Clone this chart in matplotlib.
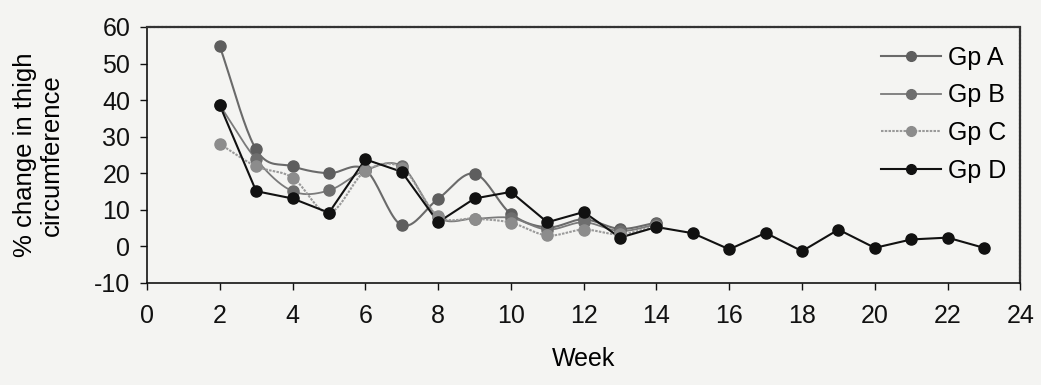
#!/usr/bin/env python3
"""
Percent change in thigh circumference by week for four groups (A-D).
Redrawn from a scanned figure: gray markers, smoothed lines, dotted frame.
"""

import numpy as np
import matplotlib.pyplot as plt

# weeks measured for groups A-C, and the longer run of group D
weeks_abc = [2, 3, 4, 5, 6, 7, 8, 9, 10, 11, 12, 13, 14]
weeks_d = [2, 3, 4, 5, 6, 7, 8, 9, 10, 11, 12, 13, 14, 15, 16, 17, 18, 19, 20, 21, 22, 23]

gp_a = [54.7, 26.5, 21.9, 20.0, 21.0, 5.8, 13.0, 19.9, 8.9, 5.2, 7.4, 4.8, 6.5]
gp_b = [38.6, 23.8, 15.1, 15.3, 20.8, 21.9, 8.0, 7.6, 7.8, 4.6, 6.6, 4.2, 6.0]
gp_c = [28.0, 21.9, 18.8, 9.2, 20.6, 21.5, 8.3, 7.6, 6.5, 3.0, 4.6, 3.3, 5.6]
gp_d = [38.6, 15.1, 13.1, 9.2, 23.8, 20.4, 6.6, 13.1, 14.9, 6.6, 9.4, 2.4, 5.3,
        3.6, -0.8, 3.7, -1.3, 4.6, -0.4, 1.9, 2.4, -0.4]

x_ticks = list(range(0, 25, 2))
y_ticks = list(range(-10, 61, 10))

BG = '#f4f4f2'
FONT = 'Liberation Sans'
plt.rcParams['axes.unicode_minus'] = False


def smooth_curve(x, y, n=20):
    """Catmull-Rom path through the points, like Excel's smoothed line."""
    x = np.asarray(x, float)
    y = np.asarray(y, float)
    px = np.concatenate([[2 * x[0] - x[1]], x, [2 * x[-1] - x[-2]]])
    py = np.concatenate([[2 * y[0] - y[1]], y, [2 * y[-1] - y[-2]]])
    xs, ys = [], []
    t = np.linspace(0, 1, n, endpoint=False)
    for i in range(1, len(px) - 2):
        for arr, out in ((px, xs), (py, ys)):
            p0, p1, p2, p3 = arr[i - 1], arr[i], arr[i + 1], arr[i + 2]
            out.extend(0.5 * (2 * p1 + (-p0 + p2) * t
                              + (2 * p0 - 5 * p1 + 4 * p2 - p3) * t ** 2
                              + (-p0 + 3 * p1 - 3 * p2 + p3) * t ** 3))
    xs.append(x[-1])
    ys.append(y[-1])
    return np.array(xs), np.array(ys)


fig = plt.figure(figsize=(10.41, 3.85), dpi=100, facecolor=BG)
ax = fig.add_axes([0.1412, 0.265, 0.839, 0.665], facecolor=BG)

series = [
    ('Gp A', weeks_abc, gp_a, '#6a6a6a', '#5e5e5e', '-', 1.5, True),
    ('Gp B', weeks_abc, gp_b, '#7a7a7a', '#6e6e6e', '-', 1.3, True),
    ('Gp C', weeks_abc, gp_c, '#9a9a9a', '#8c8c8c', (0, (1.2, 0.6)), 1.5, True),
    ('Gp D', weeks_d, gp_d, '#111111', '#111111', '-', 1.5, False),
]

for label, wx, wy, lc, mc, ls, lw, smooth in series:
    if smooth:
        sx, sy = smooth_curve(wx, wy)
    else:
        sx, sy = wx, wy
    ax.plot(sx, sy, color=lc, linestyle=ls, linewidth=lw, zorder=2)
    ax.plot(wx, wy, linestyle='none', marker='o', markersize=8,
            markerfacecolor=mc, markeredgecolor=mc, zorder=3)
    # legend proxy
    ax.plot([], [], color=lc, linestyle=ls, linewidth=lw, marker='o',
            markersize=7, markerfacecolor=mc, markeredgecolor=mc, label=label)

ax.set_xlim(0, 24)
ax.set_ylim(-10, 60)
ax.set_xticks(x_ticks)
ax.set_yticks(y_ticks)
ax.tick_params(direction='out', length=5, width=1, colors='#111111',
               labelsize=18)
ax.tick_params(axis='x', pad=10)
ax.tick_params(axis='y', pad=7)
for lab in ax.get_xticklabels() + ax.get_yticklabels():
    lab.set_fontfamily(FONT)

for side in ('left', 'bottom'):
    ax.spines[side].set_color('#111111')
    ax.spines[side].set_linewidth(1.2)
for side in ('top', 'right'):
    ax.spines[side].set_color('#333333')
    ax.spines[side].set_linewidth(1.6)
    ax.spines[side].set_linestyle((0, (1, 0.8)))

ax.set_xlabel('Week', fontsize=18, fontfamily=FONT, labelpad=14)
ax.set_ylabel('% change in thigh\ncircumference', fontsize=18.5,
              fontfamily=FONT, labelpad=22, linespacing=1.15)

leg = ax.legend(loc='upper right', bbox_to_anchor=(1.01, 1.015), frameon=False,
                prop={'family': FONT, 'size': 18}, handlelength=2.4,
                labelspacing=0.55, handletextpad=0.3)

fig.savefig('out.png', dpi=100, facecolor=BG)
